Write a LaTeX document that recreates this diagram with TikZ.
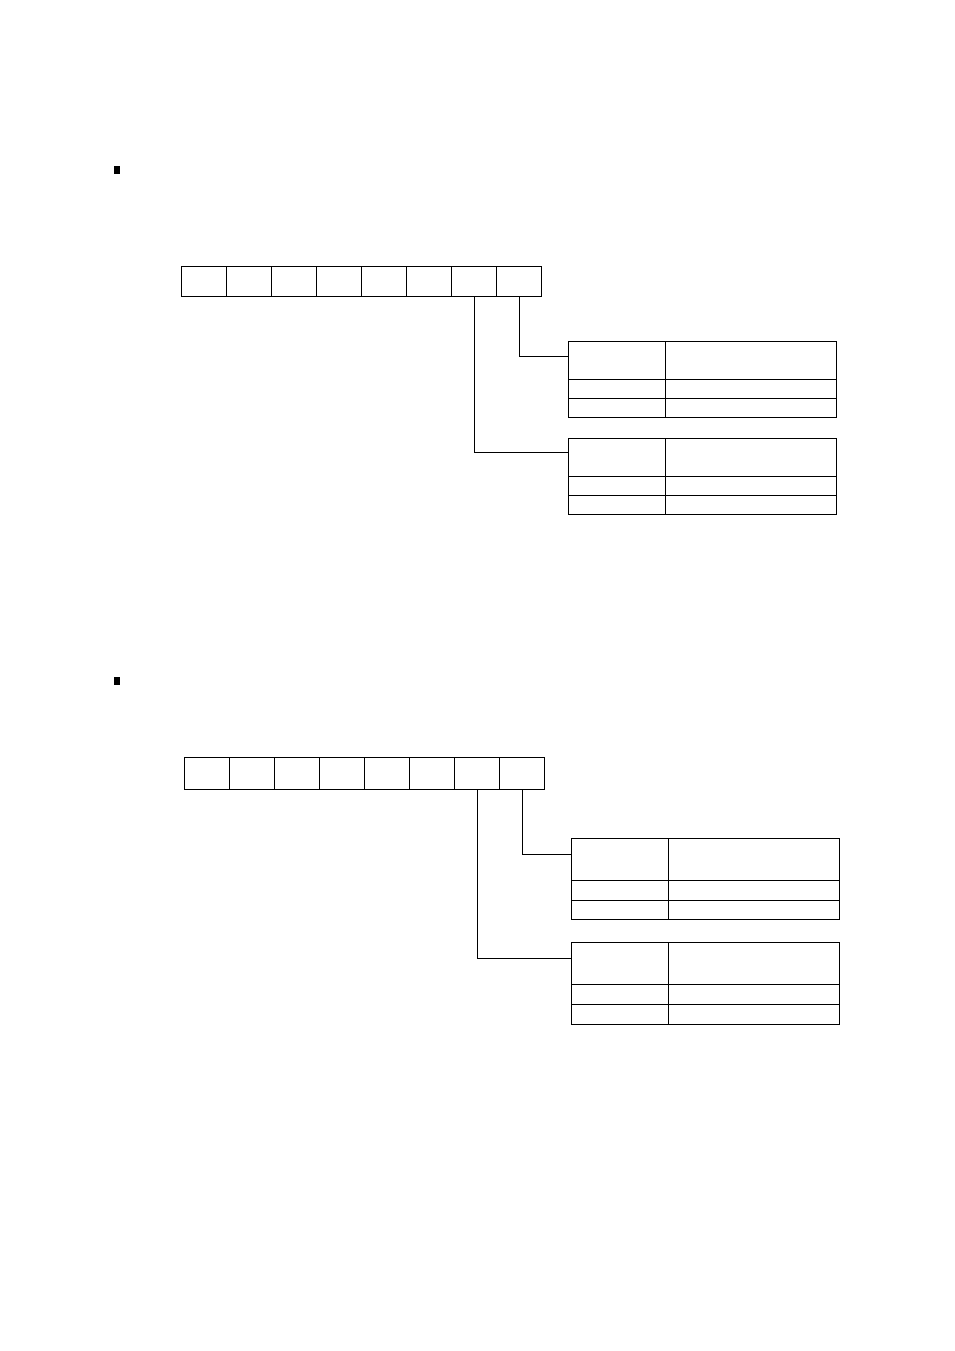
\documentclass[tikz,border=0pt]{standalone}
\begin{document}
\begin{tikzpicture}[x=1pt,y=-1pt,line width=0.8pt,
  cell/.style={draw,minimum width=45pt,minimum height=30pt,inner sep=0pt,anchor=north west},
  tbox/.style={draw,minimum width=268pt,minimum height=76pt,inner sep=0pt,anchor=north west},
  bul/.style={fill=black,minimum width=6pt,minimum height=8pt,inner sep=0pt}]
\useasboundingbox (0,0) rectangle (954,1351);
% section 1
\node[bul] (b1) at (117,170) {};
\foreach \i in {0,...,7} \node[cell] (a\i) at ({181+45*\i},266) {};
\node[tbox] (t1) at (568,341) {};
\node[tbox] (t2) at (568,438) {};
\draw (665,341) -- (665,417) (568,379) -- (836,379) (568,398) -- (836,398);
\draw (665,438) -- (665,514) (568,476) -- (836,476) (568,495) -- (836,495);
\coordinate (c1) at (568,356);
\coordinate (c2) at (568,452);
\draw (a7.south) |- (c1);
\draw (a6.south) |- (c2);
% section 2
\node[bul] (b2) at (117,681) {};
\foreach \i in {0,...,7} \node[cell,minimum height=32pt] (d\i) at ({184+45*\i},757) {};
\node[tbox,minimum height=81pt] (t3) at (571,838) {};
\node[tbox,minimum height=82pt] (t4) at (571,942) {};
\draw (668,838) -- (668,919) (571,880) -- (839,880) (571,900) -- (839,900);
\draw (668,942) -- (668,1024) (571,984) -- (839,984) (571,1004) -- (839,1004);
\coordinate (c3) at (571,854);
\coordinate (c4) at (571,958);
\draw (d7.south) |- (c3);
\draw (d6.south) |- (c4);
\end{tikzpicture}
\end{document}
